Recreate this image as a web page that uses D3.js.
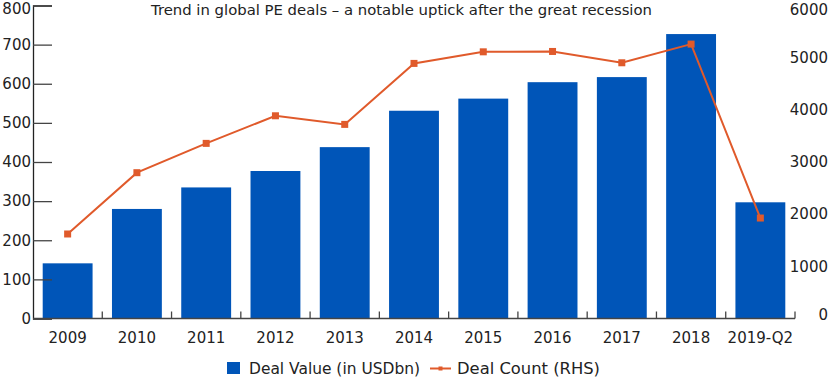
<!DOCTYPE html>
<html><head><meta charset="utf-8">
<script src="https://cdn.jsdelivr.net/npm/d3@7"></script>
<style>
body{margin:0;background:#fff;}
text{font-family:"DejaVu Sans",sans-serif;fill:#222;}
</style></head>
<body><svg id="c" width="830" height="381"></svg>
<script>
const categories = ["2009","2010","2011","2012","2013","2014","2015","2016","2017","2018","2019-Q2"];
const dealValue = [141, 280, 335, 377, 438, 531, 562, 604, 617, 727, 297];
const dealCount = [1620, 2795, 3357, 3886, 3721, 4890, 5112, 5119, 4902, 5260, 1926];
const leftTicks = [0,100,200,300,400,500,600,700,800];
const rightTicks = [0,1000,2000,3000,4000,5000,6000];
const title = "Trend in global PE deals \u2013 a notable uptick after the great recession";
const legendLabels = ["Deal Value (in USDbn)", "Deal Count (RHS)"];

const barColor = "#0055b8", lineColor = "#e05a2b";
const FONT = '"DejaVu Sans",sans-serif';
const svg = d3.select("#c");
const L = 33, R = 795, T = 5.5, B = 318.5;

const x = d3.scaleBand().domain(categories).range([L, R]).paddingInner(0.28).paddingOuter(0.14);
const yL = d3.scaleLinear().domain([0, 800]).range([B, T]);
const yR = d3.scaleLinear().domain([0, 6000]).range([B, T]);

// bars
svg.append("g").selectAll("rect").data(dealValue).join("rect")
  .attr("x", (d,i) => x(categories[i]))
  .attr("width", x.bandwidth())
  .attr("y", d => yL(d))
  .attr("height", d => B - yL(d))
  .attr("fill", barColor);

// left axis
const gl = svg.append("g").attr("transform", `translate(${L},0)`)
  .call(d3.axisLeft(yL).tickValues(leftTicks).tickSize(-19).tickPadding(2).tickFormat(d3.format("d")));
gl.select(".domain").attr("stroke", "#222").attr("stroke-width", 1.3);
gl.selectAll(".tick line").attr("stroke", "#444").attr("stroke-width", 1.3);
gl.selectAll(".tick text").attr("font-size", 15).attr("fill", "#222").style("font-family", FONT)
  .attr("x", -2).attr("y", d => d === 800 ? 3 : 0);

// right axis (labels only, right-aligned at the edge)
const gr = svg.append("g").attr("transform", `translate(${R},0)`)
  .call(d3.axisRight(yR).tickValues(rightTicks).tickSize(0).tickFormat(d3.format("d")));
gr.select(".domain").remove();
gr.selectAll(".tick text").attr("font-size", 15).attr("fill", "#222").attr("text-anchor", "end")
  .attr("x", 33).attr("y", d => d === 6000 ? 4.5 : (d === 0 ? -3.5 : 0)).style("font-family", FONT);

// x axis
const bounds = categories.map(c => x(c) - x.step()*x.paddingInner()/2).concat([R]);
const gx = svg.append("g").attr("transform", `translate(0,${B})`)
  .call(d3.axisBottom(x).tickSize(0).tickPadding(14));
gx.select(".domain").attr("stroke", "#444").attr("stroke-width", 1.3).attr("d", `M${L},0H${R}`);
gx.selectAll(".tick text").attr("font-size", 15).attr("fill", "#222").style("font-family", FONT);
gx.append("g").selectAll("line").data(bounds.slice(1)).join("line")
  .attr("x1", d => d).attr("x2", d => d).attr("y1", 0).attr("y2", -7)
  .attr("stroke", "#444").attr("stroke-width", 1.3);

// line
const cx = (i) => x(categories[i]) + x.bandwidth()/2;
svg.append("path").datum(dealCount)
  .attr("d", d3.line().x((d,i) => cx(i)).y(d => yR(d)))
  .attr("fill", "none").attr("stroke", lineColor).attr("stroke-width", 2);
svg.append("g").selectAll("rect").data(dealCount).join("rect")
  .attr("x", (d,i) => cx(i) - 3.5).attr("y", d => yR(d) - 3.5)
  .attr("width", 7).attr("height", 7).attr("fill", lineColor);

// title
svg.append("text").attr("x", 401.5).attr("y", 15).attr("text-anchor", "middle")
  .attr("font-size", 14).attr("textLength", 501).attr("lengthAdjust", "spacingAndGlyphs").text(title);

// legend
const lg = svg.append("g");
lg.append("rect").attr("x", 227).attr("y", 362).attr("width", 13).attr("height", 12).attr("fill", barColor);
lg.append("text").attr("x", 249).attr("y", 374).attr("font-size", 15)
  .attr("textLength", 171).attr("lengthAdjust", "spacingAndGlyphs").text(legendLabels[0]);
lg.append("line").attr("x1", 430).attr("x2", 451).attr("y1", 368.5).attr("y2", 368.5).attr("stroke", lineColor).attr("stroke-width", 2);
lg.append("rect").attr("x", 438.5).attr("y", 366.5).attr("width", 4).attr("height", 4).attr("fill", lineColor);
lg.append("text").attr("x", 457).attr("y", 374).attr("font-size", 15)
  .attr("textLength", 143).attr("lengthAdjust", "spacingAndGlyphs").text(legendLabels[1]);
</script></body></html>
